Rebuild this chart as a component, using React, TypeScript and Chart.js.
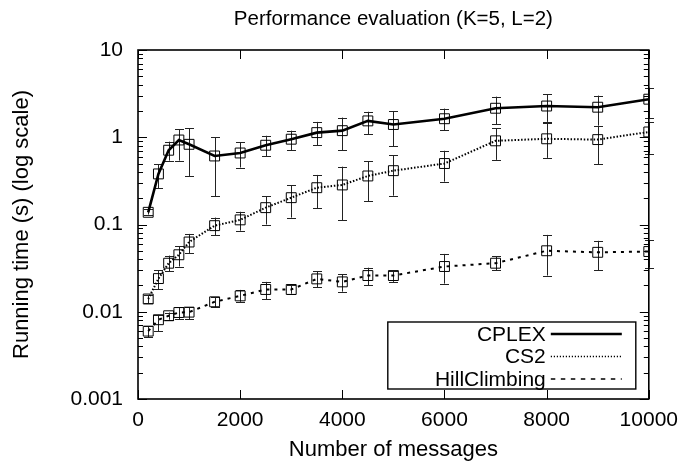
import React, { useEffect, useRef } from 'react';
import { Chart, registerables } from 'chart.js';

Chart.register(...registerables);

// ---- Data ----
const messages = [200, 400, 600, 800, 1000, 1500, 2000, 2500, 3000, 3500, 4000, 4500, 5000, 6000, 7000, 8000, 9000, 10000];

const cplex = [0.138, 0.38, 0.71, 0.93, 0.83, 0.61, 0.66, 0.81, 0.95, 1.13, 1.19, 1.54, 1.40, 1.63, 2.15, 2.28, 2.21, 2.73];
const cplexLow = [0.13, 0.26, 0.54, 0.54, 0.36, 0.21, 0.45, 0.61, 0.71, 0.81, 0.71, 1.08, 0.79, 1.21, 1.41, 1.50, 1.36, 1.65];
const cplexHigh = [0.15, 0.49, 0.89, 1.24, 1.26, 1.00, 0.88, 1.04, 1.19, 1.50, 1.68, 1.96, 2.00, 2.13, 2.92, 3.11, 3.00, 3.70];

const cs2 = [0.014, 0.024, 0.036, 0.045, 0.063, 0.097, 0.113, 0.156, 0.203, 0.264, 0.284, 0.36, 0.414, 0.50, 0.91, 0.96, 0.94, 1.15];
const cs2Low = [0.0125, 0.018, 0.029, 0.033, 0.047, 0.075, 0.085, 0.10, 0.12, 0.153, 0.112, 0.185, 0.214, 0.31, 0.55, 0.58, 0.49, 0.65];
const cs2High = [0.0155, 0.030, 0.044, 0.056, 0.078, 0.12, 0.14, 0.21, 0.28, 0.37, 0.46, 0.53, 0.62, 0.70, 1.26, 1.45, 1.35, 1.50];

const hill = [0.0060, 0.0081, 0.0090, 0.0098, 0.0099, 0.013, 0.0152, 0.018, 0.018, 0.0238, 0.022, 0.026, 0.026, 0.033, 0.036, 0.050, 0.048, 0.049];
const hillLow = [0.0051, 0.0060, 0.0081, 0.0082, 0.0082, 0.0112, 0.013, 0.014, 0.0161, 0.019, 0.017, 0.020, 0.022, 0.021, 0.030, 0.026, 0.030, 0.032];
const hillHigh = [0.0068, 0.0092, 0.0098, 0.0112, 0.0112, 0.0147, 0.0178, 0.022, 0.0203, 0.029, 0.027, 0.032, 0.029, 0.046, 0.043, 0.076, 0.065, 0.066];

const seriesLabels = ['CPLEX', 'CS2', 'HillClimbing'];
const chartTitle = 'Performance evaluation (K=5, L=2)';
const xTickValues = [0, 2000, 4000, 6000, 8000, 10000];
const yDecades = [-3, -2, -1, 0, 1];

const FONT = '"Liberation Sans", Arial, Helvetica, sans-serif';

const lineDashes = [[], [1.5, 1.8], [3, 5]];
const lineWidths = [2.6, 2, 2];
const legendDashes = [[], [1.2, 1.8], [4.5, 5.5]];
const legendWidths = [2.6, 1.3, 1.6];

export default function App() {
  const ref = useRef<HTMLCanvasElement>(null);

  useEffect(() => {
    document.body.style.margin = '0';
    const canvas = ref.current;
    if (!canvas) return;

    const errs = [
      [cplexLow, cplexHigh],
      [cs2Low, cs2High],
      [hillLow, hillHigh],
    ];

    const decor = {
      id: 'gnuplotDecor',
      beforeDatasetsDraw(chart: any) {
        const { ctx, scales } = chart;
        const x = scales.x;
        const y = scales.y;
        ctx.save();
        ctx.strokeStyle = '#222';
        ctx.lineWidth = 1;
        ctx.setLineDash([]);
        errs.forEach(([lo, hi]) => {
          messages.forEach((m, i) => {
            const px = Math.round(x.getPixelForValue(m)) + 0.5;
            const y1 = y.getPixelForValue(lo[i]);
            const y2 = y.getPixelForValue(hi[i]);
            ctx.beginPath();
            ctx.moveTo(px, y1);
            ctx.lineTo(px, y2);
            ctx.moveTo(px - 4.5, Math.round(y1) + 0.5);
            ctx.lineTo(px + 4.5, Math.round(y1) + 0.5);
            ctx.moveTo(px - 4.5, Math.round(y2) + 0.5);
            ctx.lineTo(px + 4.5, Math.round(y2) + 0.5);
            ctx.stroke();
          });
        });
        ctx.restore();
      },
      afterDraw(chart: any) {
        const { ctx, chartArea, scales } = chart;
        const { left, right, top, bottom } = chartArea;
        const x = scales.x;
        const y = scales.y;
        ctx.save();

        // title, centred over the plot area
        ctx.fillStyle = '#000';
        ctx.font = '20.5px ' + FONT;
        ctx.textAlign = 'center';
        ctx.textBaseline = 'middle';
        ctx.fillText(chartTitle, (left + right) / 2, 19);

        ctx.strokeStyle = '#000';
        ctx.lineWidth = 1;
        ctx.setLineDash([]);
        ctx.beginPath();
        xTickValues.forEach((v) => {
          const px = Math.round(x.getPixelForValue(v)) + 0.5;
          ctx.moveTo(px, bottom);
          ctx.lineTo(px, bottom - 9);
          ctx.moveTo(px, top);
          ctx.lineTo(px, top + 9);
        });
        yDecades.forEach((e) => {
          for (let mlt = 1; mlt <= 9; mlt++) {
            const v = mlt * Math.pow(10, e);
            if (v > 10 + 1e-9) break;
            const len = mlt === 1 ? 9 : 5;
            const py = Math.round(y.getPixelForValue(v)) + 0.5;
            ctx.moveTo(left, py);
            ctx.lineTo(left + len, py);
            ctx.moveTo(right, py);
            ctx.lineTo(right - len, py);
          }
        });
        ctx.stroke();

        // frame
        ctx.lineWidth = 1.6;
        ctx.strokeRect(left, top, right - left, bottom - top);

        // legend
        const bx1 = right - 261;
        const bx2 = right - 13;
        const by1 = bottom - 77;
        const by2 = bottom - 10;
        ctx.fillStyle = '#fff';
        ctx.fillRect(bx1, by1, bx2 - bx1, by2 - by1);
        ctx.lineWidth = 1.4;
        ctx.strokeRect(bx1, by1, bx2 - bx1, by2 - by1);
        ctx.font = '21px ' + FONT;
        ctx.fillStyle = '#000';
        ctx.textAlign = 'right';
        ctx.textBaseline = 'middle';
        chart.data.datasets.forEach((ds: any, i: number) => {
          const ry = by1 + 12 + i * 22.5;
          ctx.fillText(ds.label, right - 103, ry + 1);
          ctx.beginPath();
          ctx.lineWidth = legendWidths[i];
          ctx.setLineDash(legendDashes[i]);
          ctx.moveTo(right - 98, ry);
          ctx.lineTo(right - 27, ry);
          ctx.stroke();
        });
        ctx.restore();
      },
    };

    const series = [cplex, cs2, hill];
    const chart = new Chart(canvas, {
      type: 'line',
      data: {
        datasets: series.map((s, i) => ({
          label: seriesLabels[i],
          data: messages.map((m, j) => ({ x: m, y: s[j] })),
          borderColor: '#000',
          borderWidth: lineWidths[i],
          borderDash: lineDashes[i],
          backgroundColor: 'rgba(0,0,0,0)',
          pointStyle: 'rect',
          pointRadius: 7,
          pointBorderWidth: 1,
          pointBorderColor: '#000',
          pointBackgroundColor: 'rgba(0,0,0,0)',
          tension: 0,
          fill: false,
        })),
      },
      options: {
        responsive: false,
        animation: false,
        devicePixelRatio: 1,
        layout: { padding: { left: 0, right: 36, top: 50, bottom: 0 } },
        plugins: {
          legend: { display: false },
          tooltip: { enabled: false },
          title: { display: false },
        },
        scales: {
          x: {
            type: 'linear',
            min: 0,
            max: 10000,
            grid: { display: false, drawTicks: false },
            border: { display: false },
            ticks: {
              stepSize: 2000,
              maxRotation: 0,
              color: '#000',
              padding: 9,
              font: { family: FONT, size: 21 },
              callback: (v: any) => String(v),
            },
            title: {
              display: true,
              text: 'Number of messages',
              color: '#000',
              font: { family: FONT, size: 22 },
              padding: { top: 0, bottom: 4 },
            },
            afterFit: (s: any) => {
              s.height = 68;
            },
          },
          y: {
            type: 'logarithmic',
            min: 0.001,
            max: 10,
            grid: { display: false, drawTicks: false },
            border: { display: false },
            ticks: {
              autoSkip: false,
              color: '#000',
              padding: 15,
              font: { family: FONT, size: 21 },
              callback: (v: any) => {
                const l = Math.log10(Number(v));
                const e = Math.round(l);
                if (Math.abs(l - e) > 1e-6) return '';
                return e < 0 ? Math.pow(10, e).toFixed(-e) : String(Math.pow(10, e));
              },
            },
            title: {
              display: true,
              text: 'Running time (s) (log scale)',
              color: '#000',
              font: { family: FONT, size: 22 },
              padding: { top: 9, bottom: 0 },
            },
            afterFit: (s: any) => {
              s.width = 138;
            },
          },
        },
      } as any,
      plugins: [decor],
    });

    return () => chart.destroy();
  }, []);

  return (
    <div style={{ width: 687, height: 467 }}>
      <canvas ref={ref} width={687} height={467} style={{ display: 'block' }} />
    </div>
  );
}
